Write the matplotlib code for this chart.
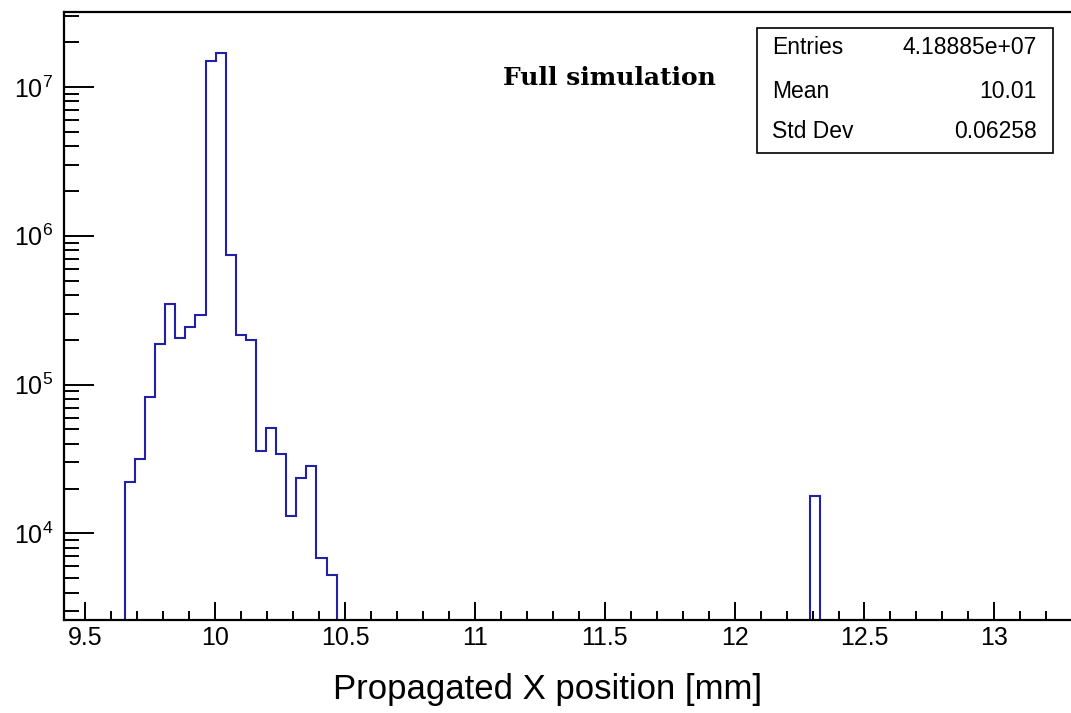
import matplotlib
matplotlib.use("Agg")
import matplotlib.pyplot as plt
import numpy as np
from matplotlib.ticker import MultipleLocator, LogLocator, LogFormatterMathtext
from matplotlib.patches import Rectangle

plt.rcParams['font.family'] = ['Liberation Sans', 'DejaVu Sans']
plt.rcParams['mathtext.fontset'] = 'custom'
plt.rcParams['mathtext.rm'] = 'Liberation Sans'
plt.rcParams['mathtext.it'] = 'Liberation Sans:italic'

# histogram binning (100 bins)
x_min, x_max, n_bins = 9.42, 13.30, 100

# bin centres and contents
bin_center = [9.672, 9.711, 9.750, 9.789, 9.827, 9.866, 9.905, 9.944, 9.983,
              10.021, 10.060, 10.099, 10.138, 10.177, 10.215, 10.254, 10.293,
              10.332, 10.371, 10.409, 10.448, 12.311]
bin_count = [2.23e4, 3.16e4, 8.26e4, 1.88e5, 3.47e5, 2.04e5, 2.45e5, 2.93e5,
             1.49e7, 1.69e7, 7.45e5, 2.16e5, 1.98e5, 3.57e4, 5.14e4, 3.40e4,
             1.31e4, 2.37e4, 2.85e4, 6.87e3, 5.25e3, 1.78e4]

stat_names = ["Entries", "Mean", "Std Dev"]
stat_values = ["4.18885e+07", "10.01", "0.06258"]

fig = plt.figure(figsize=(10.71, 7.13), dpi=100)
ax = fig.add_axes([0.0602, 0.1304, 0.9410, 0.8521])

edges = np.linspace(x_min, x_max, n_bins + 1)
ax.hist(bin_center, bins=edges, weights=bin_count, histtype='step',
        color='#2020a8', linewidth=1.5)
ax.set_yscale('log')
ax.set_xlim(x_min, x_max)
ax.set_ylim(2620, 3.16e7)

ax.spines['right'].set_visible(False)
for s in ['left', 'bottom', 'top']:
    ax.spines[s].set_linewidth(1.6)

ax.xaxis.set_major_locator(MultipleLocator(0.5))
ax.xaxis.set_minor_locator(MultipleLocator(0.1))
ax.yaxis.set_major_locator(LogLocator(base=10))
ax.yaxis.set_minor_locator(LogLocator(base=10, subs=np.arange(2, 10)))
ax.yaxis.set_major_formatter(LogFormatterMathtext())
ax.xaxis.set_major_formatter(matplotlib.ticker.FormatStrFormatter('%g'))

ax.tick_params(axis='x', which='major', direction='in', length=13, width=1.4,
               labelsize=18, pad=4)
ax.tick_params(axis='x', which='minor', direction='in', length=6.5, width=1.4)
ax.tick_params(axis='y', which='major', direction='in', length=21.5, width=1.4,
               labelsize=18, pad=8)
ax.tick_params(axis='y', which='minor', direction='in', length=10.8, width=1.4)

fig.text(0.5117, 0.0323, "Propagated X position [mm]", fontsize=25,
         ha='center', va='center')

fig.text(0.5686, 0.8906, "Full simulation", fontsize=18, fontweight='bold',
         family='DejaVu Serif', ha='center', va='center')

# stats box
fig.patches.append(Rectangle((0.7068, 0.7854), 0.2764, 0.1753,
                             transform=fig.transFigure, fill=False,
                             edgecolor='black', linewidth=1.2))
row_y = [0.9327, 0.8710, 0.8150]
for name, val, y in zip(stat_names, stat_values, row_y):
    fig.text(0.7208, y, name, fontsize=16.5, ha='left', va='center')
    fig.text(0.9683, y, val, fontsize=16.5, ha='right', va='center')

fig.savefig("out.png", dpi=100)
